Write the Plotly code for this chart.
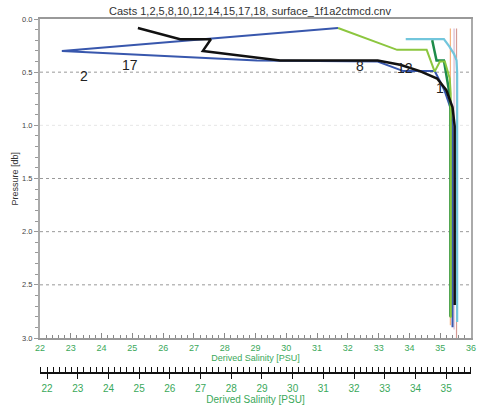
import plotly.graph_objects as go

# Salinity / pressure profiles for each cast (salinity PSU, pressure db)
cast2_sal = [31.68, 22.71, 29.05, 32.97, 33.80, 34.82, 35.00, 35.15, 35.35, 35.40, 35.40]
cast2_prs = [0.085, 0.30, 0.39, 0.40, 0.49, 0.49, 0.59, 0.68, 0.85, 1.00, 2.90]

cast8_sal = [31.68, 33.60, 34.56, 34.82, 34.99, 35.15, 35.31, 35.34, 35.34]
cast8_prs = [0.085, 0.29, 0.29, 0.495, 0.40, 0.40, 0.56, 0.70, 2.81]

cast1_sal = [34.74, 34.88, 35.12, 35.20, 35.30, 35.33, 35.33]
cast1_prs = [0.20, 0.39, 0.39, 0.54, 0.70, 0.85, 2.80]

cast12_sal = [33.88, 35.12, 35.30, 35.45, 35.53, 35.55, 35.55]
cast12_prs = [0.19, 0.19, 0.26, 0.33, 0.39, 0.50, 2.85]

cast17_sal = [25.18, 26.55, 27.55, 27.29, 29.80, 32.97, 33.70, 34.34, 34.90, 35.20, 35.40, 35.47, 35.47]
cast17_prs = [0.085, 0.19, 0.19, 0.30, 0.39, 0.39, 0.43, 0.49, 0.56, 0.67, 0.83, 1.01, 2.69]

cast5_sal = [35.33, 35.33]
cast5_prs = [0.09, 2.88]
cast10_sal = [35.45, 35.45]
cast10_prs = [0.09, 2.92]
cast14_sal = [35.53, 35.53]
cast14_prs = [0.09, 3.00]

# Cast labels placed beside their profiles
label_text = ["2", "17", "8", "12", "1"]
label_sal = [23.43, 24.92, 32.39, 33.85, 34.99]
label_prs = [0.536, 0.43, 0.44, 0.46, 0.65]

x_ticks = list(range(22, 37))
x2_ticks = list(range(22, 36))
grid_levels = [0.5, 1.5, 2.0, 2.5]
faint_levels = [1.0]

GREEN = "#3aa85a"
FONT = "Liberation Sans, Arial, sans-serif"

fig = go.Figure()

thin = [
    (cast5_sal, cast5_prs, "#f6b27c", 1.2),
    (cast10_sal, cast10_prs, "#d9b8d0", 1.2),
    (cast14_sal, cast14_prs, "#d49a94", 1.2),
]
for sx, py, col, w in thin:
    fig.add_trace(go.Scatter(x=sx, y=py, mode="lines", line=dict(color=col, width=w),
                             hoverinfo="skip", showlegend=False))

profiles = [
    (cast12_sal, cast12_prs, "#72c6dc", 2.2),
    (cast2_sal, cast2_prs, "#3857ad", 2.0),
    (cast1_sal, cast1_prs, "#1e8c4a", 2.5),
    (cast8_sal, cast8_prs, "#8cc63f", 2.0),
    (cast17_sal, cast17_prs, "#111111", 2.5),
]
for sx, py, col, w in profiles:
    fig.add_trace(go.Scatter(x=sx, y=py, mode="lines", line=dict(color=col, width=w),
                             hoverinfo="skip", showlegend=False))

for t, sx, py in zip(label_text, label_sal, label_prs):
    fig.add_annotation(x=sx, y=py, text=t, showarrow=False,
                       font=dict(family=FONT, size=14, color="#222"))

# y-axis title, placed by hand beside the tick labels
fig.add_annotation(xref="paper", x=-26 / 431, yref="paper", y=0.5 + 35 / 354 / 2,
                   text="Pressure [db]", textangle=-90, showarrow=False,
                   xanchor="center", yanchor="middle",
                   font=dict(family=FONT, size=9, color="#333"))

# dotted grid lines
for lvl in grid_levels:
    fig.add_shape(type="line", xref="x domain", x0=0, x1=1, yref="y", y0=lvl, y1=lvl,
                  line=dict(color="#999", width=1, dash="dot"), layer="below")
for lvl in faint_levels:
    fig.add_shape(type="line", xref="x domain", x0=0, x1=1, yref="y", y0=lvl, y1=lvl,
                  line=dict(color="#e6e6e6", width=1, dash="dot"), layer="below")

# empty traces to keep the secondary axes alive
fig.add_trace(go.Scatter(x=[None], y=[None], xaxis="x2", showlegend=False, hoverinfo="skip"))
fig.add_trace(go.Scatter(x=[None], y=[None], xaxis="x3", showlegend=False, hoverinfo="skip"))

y_dom0 = 35 / 354
x2_range = [21.77, 35.81]

fig.update_layout(
    width=478, height=405,
    margin=dict(l=40, r=7, t=19, b=32, autoexpand=False),
    paper_bgcolor="white", plot_bgcolor="white",
    font=dict(family=FONT),
    title=dict(text="Casts 1,2,5,8,10,12,14,15,17,18, surface_1f1a2ctmcd.cnv",
               x=0.523, xanchor="center", y=1 - 11 / 405, yanchor="middle", yref="container",
               font=dict(size=11, color="#333")),
    xaxis=dict(range=[22, 36], domain=[0, 1], anchor="y", automargin=False,
               tickvals=x_ticks, ticks="inside", ticklen=5, tickcolor="#888", tickwidth=1,
               minor=dict(dtick=0.2, ticks="inside", ticklen=3, tickcolor="#888"),
               showline=True, linecolor="#999", linewidth=1.5, mirror=True,
               showgrid=False, zeroline=False,
               tickfont=dict(size=9, color=GREEN),
               title=dict(text="Derived Salinity [PSU]", font=dict(size=9, color=GREEN), standoff=0)),
    yaxis=dict(range=[3, 0], domain=[y_dom0, 1], automargin=False,
               tickvals=[0, 0.5, 1.0, 1.5, 2.0, 2.5, 3.0], tickformat=".1f",
               ticks="outside", ticklen=4, tickcolor="#999",
               minor=dict(dtick=0.1, ticks="outside", ticklen=3, tickcolor="#999"),
               showline=True, linecolor="#aaa", linewidth=2, mirror=True,
               showgrid=False, zeroline=False, ticklabelstandoff=0,
               tickfont=dict(size=7.5, color="#444")),
    xaxis2=dict(range=x2_range, overlaying="x", anchor="free", position=0, side="bottom",
                domain=[0.007, 1], automargin=False,
                tickvals=x2_ticks, ticks="outside", ticklen=5, tickcolor="#111", tickwidth=1.2,
                minor=dict(dtick=0.2, ticks="inside", ticklen=5, tickcolor="#111"),
                showline=True, linecolor="#111", linewidth=1.5,
                showgrid=False, zeroline=False, ticklabelstandoff=1,
                tickfont=dict(size=10, color=GREEN),
                title=dict(text="Derived Salinity [PSU]", font=dict(size=10, color=GREEN), standoff=0)),
    xaxis3=dict(range=x2_range, overlaying="x", anchor="free", position=0, side="bottom",
                domain=[0.007, 1], automargin=False,
                tickvals=x2_ticks, ticks="inside", ticklen=5, tickcolor="#111", tickwidth=1.2,
                showticklabels=False, showline=False, showgrid=False, zeroline=False),
)

fig.write_html("out.html")
